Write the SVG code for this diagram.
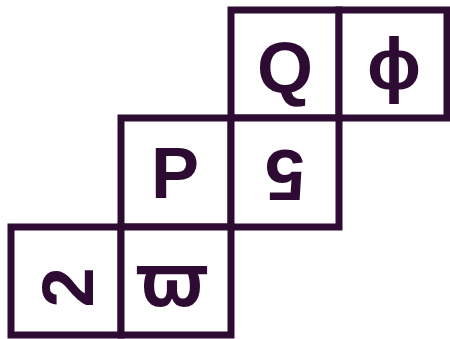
<svg xmlns="http://www.w3.org/2000/svg" width="450" height="339" viewBox="0 0 450 339">
<style>
.cell{fill:#fff;stroke:#2e0b33;stroke-width:7;}
.g{font-family:"Liberation Sans",Arial,sans-serif;font-weight:bold;font-size:72px;fill:#2e0b33;text-anchor:middle;}
.pi{font-family:"Noto Sans","Open Sans",sans-serif;font-size:74px;}
</style>
<rect width="450" height="339" fill="#fff"/>
<g id="connectors"></g>
<g id="cellQ"><rect class="cell" x="231" y="10" width="108" height="108"/><text class="g" x="285" y="93">Q</text></g>
<g id="cellPhi"><rect class="cell" x="339" y="10" width="108" height="108"/><text class="g" x="394" y="89">ϕ</text></g>
<g id="cellP"><rect class="cell" x="121" y="118" width="110" height="109"/><text class="g" x="175" y="198">P</text></g>
<g id="cell5"><rect class="cell" x="231" y="118" width="108" height="109"/><text class="g" transform="translate(285 175) rotate(180)" y="25.5">5</text></g>
<g id="cell2"><rect class="cell" x="11" y="227" width="110" height="108"/><text class="g" transform="translate(67 287.5) rotate(-90)" y="25.5">2</text></g>
<g id="cellPi"><rect class="cell" x="121" y="227" width="110" height="108"/><text class="g pi" x="172" y="306">ϖ</text></g>
</svg>
